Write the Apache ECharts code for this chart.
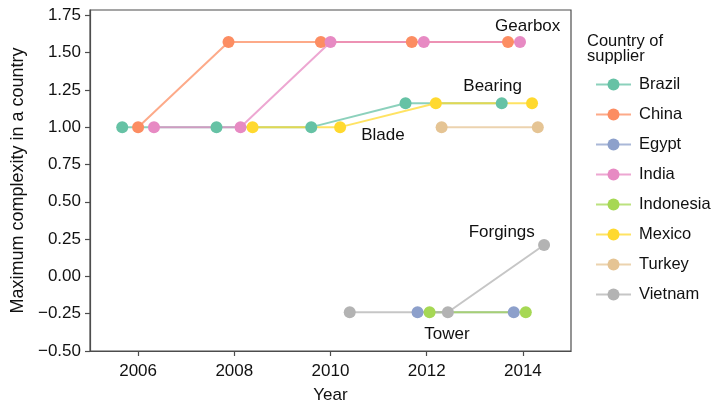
<!DOCTYPE html>
<html>
<head>
<meta charset="utf-8">
<script src="https://cdn.jsdelivr.net/npm/echarts@6/dist/echarts.min.js"></script>
<style>
  html, body { margin: 0; padding: 0; background: #ffffff; }
  #chart { width: 719px; height: 401px; }
</style>
</head>
<body>
<div id="chart"></div>
<script>
// Supplier countries and their palette
const countries = ['Brazil', 'China', 'Egypt', 'India', 'Indonesia', 'Mexico', 'Turkey', 'Vietnam'];
const palette = ['#66C2A5', '#FC8D62', '#8DA0CB', '#E78AC3', '#A6D854', '#FFD92F', '#E5C494', '#B3B3B3'];

// Year positions (dodged within each year) and maximum complexity per country
const brazilYear = [2005.67, 2007.63, 2009.6, 2011.56, 2013.56];
const brazilMax = [1.00, 1.00, 1.00, 1.16, 1.16];
const chinaYear = [2006.0, 2007.88, 2009.8, 2011.69, 2013.69];
const chinaMax = [1.00, 1.57, 1.57, 1.57, 1.57];
const egyptYear = [2011.81, 2013.81];
const egyptMax = [-0.24, -0.24];
const indiaYear = [2006.33, 2008.13, 2010.0, 2011.94, 2013.94];
const indiaMax = [1.00, 1.00, 1.57, 1.57, 1.57];
const indonesiaYear = [2012.06, 2014.06];
const indonesiaMax = [-0.24, -0.24];
const mexicoYear = [2008.38, 2010.2, 2012.19, 2014.19];
const mexicoMax = [1.00, 1.00, 1.16, 1.16];
const turkeyYear = [2012.31, 2014.31];
const turkeyMax = [1.00, 1.00];
const vietnamYear = [2010.4, 2012.44, 2014.44];
const vietnamMax = [-0.24, -0.24, 0.21];

// Axis ticks
const yearTicks = [2006, 2008, 2010, 2012, 2014];
const complexityTicks = [-0.5, -0.25, 0, 0.25, 0.5, 0.75, 1, 1.25, 1.5, 1.75];

// Component annotations, anchored in data units
const componentNames = ['Gearbox', 'Bearing', 'Blade', 'Forgings', 'Tower'];
const componentYear = [2014.1, 2013.37, 2011.09, 2013.56, 2012.42];
const componentLevel = [1.674, 1.276, 0.942, 0.292, -0.385];

const yearsByCountry = [brazilYear, chinaYear, egyptYear, indiaYear, indonesiaYear, mexicoYear, turkeyYear, vietnamYear];
const maxByCountry = [brazilMax, chinaMax, egyptMax, indiaMax, indonesiaMax, mexicoMax, turkeyMax, vietnamMax];

const FONT = '"Liberation Sans", Arial, Helvetica, sans-serif';
const INK = '#111111';
const AXIS = '#4d4d4d';

function pairs(xs, ys) { return xs.map((x, i) => [x, ys[i]]); }

const series = [];
// connecting lines first, so every point sits above every line
countries.forEach((name, i) => {
  series.push({
    name: name,
    type: 'line',
    data: pairs(yearsByCountry[i], maxByCountry[i]),
    symbol: 'none',
    itemStyle: { color: palette[i] },
    lineStyle: { color: palette[i], width: 2, opacity: 0.75 },
    z: 2,
    animation: false,
    emphasis: { disabled: true }
  });
});
countries.forEach((name, i) => {
  series.push({
    name: name,
    type: 'scatter',
    data: pairs(yearsByCountry[i], maxByCountry[i]),
    symbol: 'circle',
    symbolSize: 12,
    itemStyle: { color: palette[i], opacity: 1 },
    z: 3,
    animation: false,
    emphasis: { disabled: true }
  });
});
series.push({
  name: 'components',
  type: 'scatter',
  symbolSize: 0,
  itemStyle: { opacity: 1 },
  data: componentNames.map((n, i) => ({ name: n, value: [componentYear[i], componentLevel[i]] })),
  label: {
    show: true,
    position: 'inside',
    formatter: p => p.name,
    fontFamily: FONT,
    fontSize: 17,
    color: INK,
    opacity: 1
  },
  z: 4,
  silent: true,
  animation: false
});

const chart = echarts.init(document.getElementById('chart'), null, { renderer: 'canvas' });
chart.setOption({
  backgroundColor: '#ffffff',
  animation: false,
  grid: {
    left: 90, right: 148, top: 10, bottom: 50,
    outerBoundsMode: 'none',
    containLabel: false,
    show: true, borderColor: AXIS, borderWidth: 1.2, backgroundColor: 'transparent'
  },
  xAxis: {
    type: 'value',
    min: 2005, max: 2015,
    name: 'Year',
    nameLocation: 'middle',
    nameGap: 36,
    nameTextStyle: { fontFamily: FONT, fontSize: 17, color: INK },
    axisLine: { show: true, onZero: false, lineStyle: { color: AXIS, width: 1.2 } },
    axisTick: { show: true, length: 5, customValues: yearTicks, lineStyle: { color: AXIS, width: 1.2 } },
    axisLabel: {
      customValues: yearTicks, fontFamily: FONT, fontSize: 17, color: INK, margin: 12,
      formatter: v => String(v)
    },
    splitLine: { show: false }
  },
  yAxis: {
    type: 'value',
    min: -0.5, max: 1.785,
    name: 'Maximum complexity in a country',
    nameLocation: 'middle',
    nameGap: 57,
    nameTextStyle: { fontFamily: FONT, fontSize: 18, color: INK },
    axisLine: { show: true, onZero: false, lineStyle: { color: AXIS, width: 1.2 } },
    axisTick: { show: true, length: 5, customValues: complexityTicks, lineStyle: { color: AXIS, width: 1.2 } },
    axisLabel: {
      customValues: complexityTicks,
      fontFamily: FONT, fontSize: 17, color: INK, margin: 9,
      formatter: v => (v < 0 ? '\u2212' : '') + Math.abs(v).toFixed(2)
    },
    splitLine: { show: false }
  },
  legend: {
    data: countries,
    orient: 'vertical',
    left: 590,
    top: 71,
    itemWidth: 35,
    itemHeight: 15,
    itemGap: 13,
    selectedMode: false,
    textStyle: { fontFamily: FONT, fontSize: 16.5, color: INK, padding: [0, 0, 0, 3] }
  },
  graphic: [{
    type: 'text',
    left: 587,
    top: 33,
    style: {
      text: 'Country of\nsupplier',
      font: '16.5px ' + FONT,
      lineHeight: 15,
      fill: INK
    }
  }],
  series: series
});
</script>
</body>
</html>
